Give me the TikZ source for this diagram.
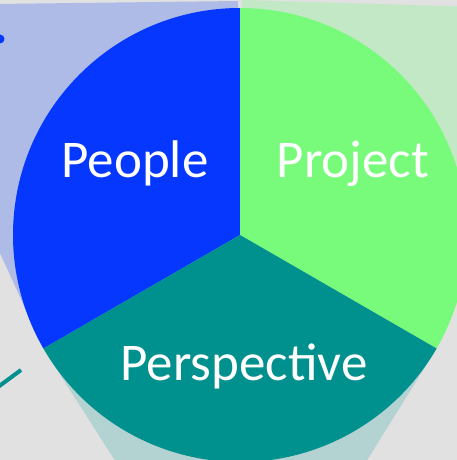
\documentclass[tikz,border=0pt]{standalone}
\usepackage{fontspec}
\setmainfont{Carlito}
\definecolor{bggray}{HTML}{E1E1E1}
\definecolor{peopleblue}{HTML}{0537FF}
\definecolor{projectgreen}{HTML}{78FA7B}
\definecolor{perspteal}{HTML}{00918E}
\definecolor{peopleshade}{HTML}{AEBBE6}
\definecolor{projectshade}{HTML}{C3E8C5}
\definecolor{perspshade}{HTML}{B3D3D2}
\begin{document}
\begin{tikzpicture}[x=1pt,y=1pt]
    \tikzstyle{every node}+=[inner sep=0pt]
    \tikzstyle{sectortext}=[text=white, font=\fontsize{53}{62}\selectfont, anchor=base]
    \useasboundingbox (0,0) rectangle (457,-460);
    \clip (0,0) rectangle (457,-460);
    \fill [bggray] (0,0) rectangle (457,-460);
    \coordinate (c) at (240,-235);
    % light shadows behind the pie
    \fill [peopleshade] (238,-1) -- (-5,-4) -- (-5,-242) -- (43.4,-348.5) -- (c) -- cycle;
    \fill [projectshade] (242,0) -- (480,-7) -- (480,-253) -- (436.6,-348.5) -- (c) -- cycle;
    \fill [perspshade] (43.4,-348.5) -- (121,-470) -- (361,-470) -- (436.6,-348.5) -- (c) -- cycle;
    % the three sectors
    \fill [peopleblue] (c) -- ++(90:227) arc (90:210:227) -- cycle;
    \fill [projectgreen] (c) -- ++(90:227) arc (90:-30:227) -- cycle;
    \fill [perspteal] (c) -- ++(210:227) arc (210:330:227) -- cycle;
    % leftover marks at the left edge
    \fill [peopleblue] (0,-39) circle (4.5);
    \draw [perspteal, line width=4] (-2,-387) -- (21,-370);
    \node [sectortext] (people) at (135,-177) {People};
    \node [sectortext] (project) at (353,-177) {Project};
    \node [sectortext] (perspective) at (244,-380) {Perspective};
\end{tikzpicture}
\end{document}
